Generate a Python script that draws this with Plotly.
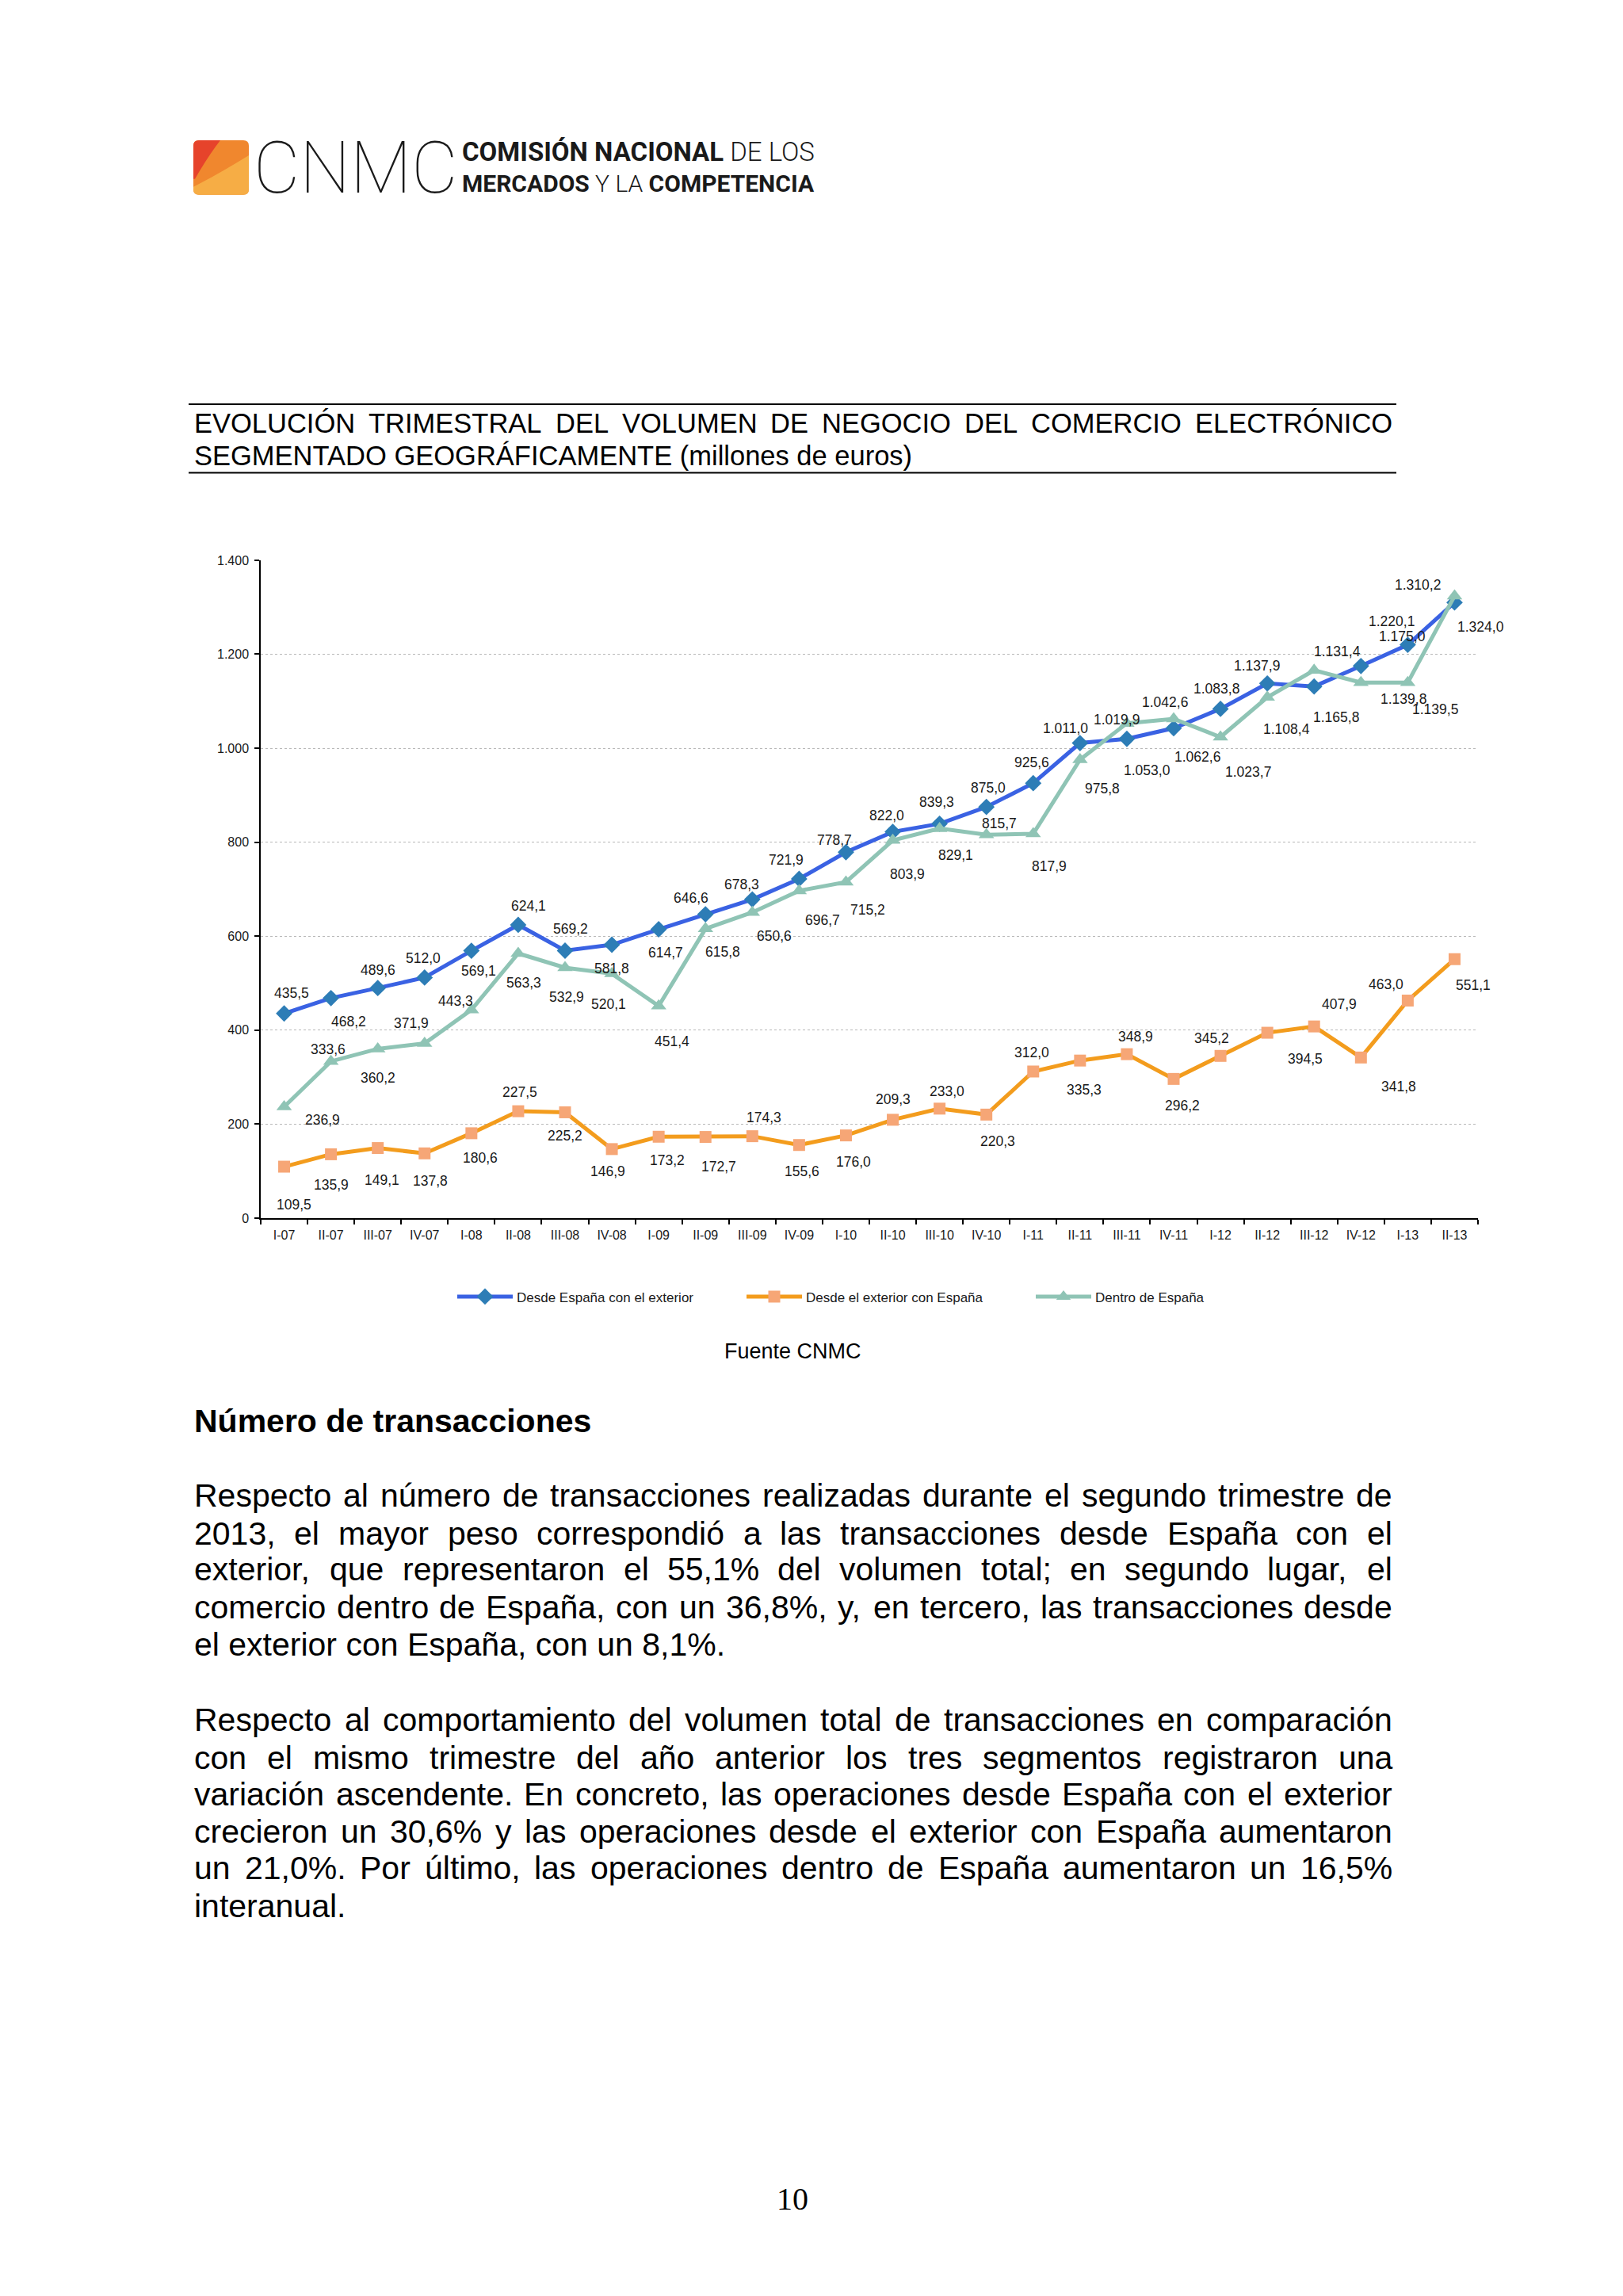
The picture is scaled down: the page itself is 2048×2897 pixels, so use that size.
import plotly.graph_objects as go

PAGE_W, PAGE_H = 2048, 2897
BODY_MARGIN = 8          # default <body> margin of the written html page
W, H = PAGE_W - 2 * BODY_MARGIN, PAGE_H - 2 * BODY_MARGIN

# ---------------- data ----------------
quarters = ["I-07", "II-07", "III-07", "IV-07", "I-08", "II-08", "III-08", "IV-08",
            "I-09", "II-09", "III-09", "IV-09", "I-10", "II-10", "III-10", "IV-10",
            "I-11", "II-11", "III-11", "IV-11", "I-12", "II-12", "III-12", "IV-12",
            "I-13", "II-13"]
desde_espana_exterior = [435.5, 468.2, 489.6, 512.0, 569.1, 624.1, 569.2, 581.8,
                         614.7, 646.6, 678.3, 721.9, 778.7, 822.0, 839.3, 875.0,
                         925.6, 1011.0, 1019.9, 1042.6, 1083.8, 1137.9, 1131.4, 1175.0,
                         1220.1, 1310.2]
desde_exterior_espana = [109.5, 135.9, 149.1, 137.8, 180.6, 227.5, 225.2, 146.9,
                         173.2, 172.7, 174.3, 155.6, 176.0, 209.3, 233.0, 220.3,
                         312.0, 335.3, 348.9, 296.2, 345.2, 394.5, 407.9, 341.8,
                         463.0, 551.1]
dentro_espana = [236.9, 333.6, 360.2, 371.9, 443.3, 563.3, 532.9, 520.1,
                 451.4, 615.8, 650.6, 696.7, 715.2, 803.9, 829.1, 815.7,
                 817.9, 975.8, 1053.0, 1062.6, 1023.7, 1108.4, 1165.8, 1139.8,
                 1139.5, 1324.0]
series_names = ["Desde España con el exterior", "Desde el exterior con España", "Dentro de España"]
y_ticks = [0, 200, 400, 600, 800, 1000, 1200, 1400]

title_lines = ["EVOLUCIÓN TRIMESTRAL DEL VOLUMEN DE NEGOCIO DEL COMERCIO ELECTRÓNICO",
               "SEGMENTADO GEOGRÁFICAMENTE (millones de euros)"]
source_text = "Fuente CNMC"
heading_text = "Número de transacciones"
paragraph1 = ["Respecto al número de transacciones realizadas durante el segundo trimestre de",
              "2013, el mayor peso correspondió a las transacciones desde España con el",
              "exterior, que representaron el 55,1% del volumen total; en segundo lugar, el",
              "comercio dentro de España, con un 36,8%, y, en tercero, las transacciones desde",
              "el exterior con España, con un 8,1%."]
paragraph2 = ["Respecto al comportamiento del volumen total de transacciones en comparación",
              "con el mismo trimestre del año anterior los tres segmentos registraron una",
              "variación ascendente. En concreto, las operaciones desde España con el exterior",
              "crecieron un 30,6% y las operaciones desde el exterior con España aumentaron",
              "un 21,0%. Por último, las operaciones dentro de España aumentaron un 16,5%",
              "interanual."]
page_number = "10"
logo_word = "CNMC"
logo_line1 = "<b>COMISIÓN NACIONAL</b> DE LOS"
logo_line2 = "<b>MERCADOS</b> Y LA <b>COMPETENCIA</b>"

# label placement (offset of label centre from point, in reduced-image px; +dy = down)
off_blue = [(5, -14), (12, 16), (0, -12), (-1, -13), (5, 14), (7, -13), (4, -15), (0, 16),
            (5, 16), (-10, -11), (-7, -10), (-9, -13), (-8, -8), (-4, -11), (-2, -15), (1, -13),
            (-1, -14), (-10, -10), (-7, -13), (-6, -18), (-3, -14), (-7, -12), (16, -24), (28, -20),
            (-11, -16), (-25, -12)]
off_teal = [(26, 9), (-2, -8), (0, 20), (-9, -14), (-11, -6), (4, 20), (1, 20), (-2, 21),
            (9, 24), (12, 16), (15, 16), (16, 20), (15, 19), (10, 23), (11, 18), (9, -8),
            (11, 22), (15, 20), (14, 32), (16, 26), (19, 24), (13, 22), (15, 32), (29, 11),
            (19, 18), (18, 21)]
off_orange = [(7, 26), (0, 21), (3, 22), (4, 19), (6, 17), (1, -13), (0, 16), (-3, 15),
              (6, 16), (9, 20), (8, -13), (2, 18), (5, 18), (0, -14), (5, -12), (8, 18),
              (-1, -13), (3, 20), (6, -12), (6, 18), (-6, -12), (26, 18), (17, -15), (26, 20),
              (-15, -11), (13, 18)]

# ---------------- helpers ----------------
def px(x):
    return (x - BODY_MARGIN) / W


def py(y):
    return 1 - (y - BODY_MARGIN) / H


ARIAL = {' ': 278, '!': 278, '%': 889, "'": 191, '(': 333, ')': 333, ',': 278, '-': 333,
         '.': 278, '/': 278, ':': 278, ';': 278, '?': 556,
         'A': 667, 'B': 667, 'C': 722, 'D': 722, 'E': 667, 'F': 611, 'G': 778, 'H': 722,
         'I': 278, 'J': 500, 'K': 667, 'L': 556, 'M': 833, 'N': 722, 'O': 778, 'P': 667,
         'Q': 778, 'R': 722, 'S': 667, 'T': 611, 'U': 722, 'V': 667, 'W': 944, 'X': 667,
         'Y': 667, 'Z': 611,
         'a': 556, 'b': 556, 'c': 500, 'd': 556, 'e': 556, 'f': 278, 'g': 556, 'h': 556,
         'i': 222, 'j': 222, 'k': 500, 'l': 222, 'm': 833, 'n': 556, 'o': 556, 'p': 556,
         'q': 556, 'r': 333, 's': 500, 't': 278, 'u': 556, 'v': 500, 'w': 722, 'x': 500,
         'y': 500, 'z': 500,
         'á': 556, 'é': 556, 'í': 278, 'ó': 556, 'ú': 556, 'ñ': 556,
         'Á': 667, 'É': 667, 'Í': 278, 'Ó': 778, 'Ú': 722, 'Ñ': 722}


def tw(s, size):
    return sum(ARIAL.get(c, 556) for c in s) / 1000.0 * size


SANS = "Liberation Sans, Arial, sans-serif"
annotations = []


def add_text_line(text, x_left, x_right, y_center, size, justify, bold=False, color="#000000"):
    font = dict(family=SANS, size=size, color=color)
    if bold:
        font["weight"] = "bold"
    if not justify:
        annotations.append(dict(x=px(x_left), y=py(y_center), xref="paper", yref="paper",
                                text=text, xanchor="left", yanchor="middle", showarrow=False,
                                borderpad=0, font=font))
        return
    words = text.split(" ")
    widths = [tw(w, size) for w in words]
    gap = (x_right - x_left - sum(widths)) / (len(words) - 1)
    x = x_left
    for w, wd in zip(words, widths):
        annotations.append(dict(x=px(x), y=py(y_center), xref="paper", yref="paper",
                                text=w, xanchor="left", yanchor="middle", showarrow=False,
                                borderpad=0, font=font))
        x += wd + gap


def fmt(v):
    s = f"{v:,.1f}"
    return s.replace(",", "X").replace(".", ",").replace("X", ".")


def path(cmds):
    out = []
    for c in cmds:
        if c[0] == "Z":
            out.append("Z")
        else:
            pts = c[1:]
            coords = " ".join(f"{px(pts[i]):.5f},{py(pts[i + 1]):.5f}" for i in range(0, len(pts), 2))
            out.append(f"{c[0]} {coords}")
    return " ".join(out)


# ---------------- figure ----------------
fig = go.Figure()

fig.add_trace(go.Scatter(x=quarters, y=desde_espana_exterior, name=series_names[0],
                         mode="lines+markers",
                         line=dict(color="#3a62e3", width=5),
                         marker=dict(symbol="diamond", size=16, color="#2d7db6")))
fig.add_trace(go.Scatter(x=quarters, y=desde_exterior_espana, name=series_names[1],
                         mode="lines+markers",
                         line=dict(color="#f39c1d", width=5),
                         marker=dict(symbol="square", size=15, color="#f6a676")))
fig.add_trace(go.Scatter(x=quarters, y=dentro_espana, name=series_names[2],
                         mode="lines+markers",
                         line=dict(color="#8fc4b5", width=5),
                         marker=dict(symbol="triangle-up", size=17, color="#8fc4b5")))

S = PAGE_W / 1108.0
for vals, offs in ((desde_espana_exterior, off_blue), (desde_exterior_espana, off_orange),
                   (dentro_espana, off_teal)):
    for q, v, (dx, dy) in zip(quarters, vals, offs):
        annotations.append(dict(x=q, y=v, xref="x", yref="y", text=fmt(v), showarrow=False,
                                xshift=dx * S, yshift=-dy * S,
                                font=dict(family=SANS, size=17.5, color="#1a1a1a")))

# title with rules
add_text_line(title_lines[0], 244, 1756, 529, 34.5, True)
add_text_line(title_lines[1], 244, 1756, 570, 34.5, False)

# source, heading, paragraphs, page number
annotations.append(dict(x=px(1000), y=py(1707), xref="paper", yref="paper", text=source_text,
                        showarrow=False, xanchor="center", yanchor="middle",
                        font=dict(family=SANS, size=27, color="#000000")))
add_text_line(heading_text, 244, 1756, 1796, 41, False, bold=True)
p1_y = [1890, 1938, 1984, 2032, 2079]
for i, (line, yy) in enumerate(zip(paragraph1, p1_y)):
    add_text_line(line, 244, 1756, yy, 41, i < len(paragraph1) - 1)
p2_y = [2175, 2223, 2269, 2317, 2363, 2411]
for i, (line, yy) in enumerate(zip(paragraph2, p2_y)):
    add_text_line(line, 244, 1756, yy, 41, i < len(paragraph2) - 1)
annotations.append(dict(x=px(1000), y=py(2783), xref="paper", yref="paper", text=page_number,
                        showarrow=False, xanchor="center", yanchor="middle",
                        font=dict(family="Liberation Serif, Times New Roman, serif", size=40,
                                  color="#000000")))

# logo texts
annotations.append(dict(x=px(319), y=py(206), xref="paper", yref="paper", text=logo_word,
                        showarrow=False, xanchor="left", yanchor="middle", borderpad=0,
                        font=dict(family="Roboto, Lato, sans-serif", size=90, weight=100,
                                  color="#1a1a1a")))
LOGO_FONT = "Roboto, Liberation Sans, sans-serif"
annotations.append(dict(x=px(582), y=py(185), xref="paper", yref="paper", text=logo_line1,
                        showarrow=False, xanchor="left", yanchor="middle", borderpad=0,
                        font=dict(family=LOGO_FONT, size=33, weight=300, color="#1a1a1a")))
annotations.append(dict(x=px(582), y=py(225), xref="paper", yref="paper", text=logo_line2,
                        showarrow=False, xanchor="left", yanchor="middle", borderpad=0,
                        font=dict(family=LOGO_FONT, size=30, weight=300, color="#1a1a1a")))

shapes = []
# rules around title
for yy in (505, 592):
    shapes.append(dict(type="line", xref="paper", yref="paper", x0=px(238), x1=px(1762),
                       y0=py(yy), y1=py(yy), line=dict(color="#000000", width=2)))
# logo square
L, T, R, B, r = 244, 170, 314, 239, 7
shapes.append(dict(type="path", xref="paper", yref="paper", line=dict(width=0),
                   fillcolor="#f0872e",
                   path=path([("M", L + r, T), ("L", R - r, T), ("Q", R, T, R, T + r),
                              ("L", R, B - r), ("Q", R, B, R - r, B), ("L", L + r, B),
                              ("Q", L, B, L, B - r), ("L", L, T + r), ("Q", L, T, L + r, T),
                              ("Z",)])))
shapes.append(dict(type="path", xref="paper", yref="paper", line=dict(width=0),
                   fillcolor="#e6432b",
                   path=path([("M", L + r, T), ("L", 278, T), ("Q", 262, T + 21, 246, T + 49),
                              ("L", L, T + 49), ("L", L, T + r), ("Q", L, T, L + r, T), ("Z",)])))
shapes.append(dict(type="path", xref="paper", yref="paper", line=dict(width=0),
                   fillcolor="#f6ad45",
                   path=path([("M", L, T + 59), ("Q", 272, T + 45, R, T + 19), ("L", R, B - r),
                              ("Q", R, B, R - r, B), ("L", L + r, B), ("Q", L, B, L, B - r),
                              ("Z",)])))

fig.update_layout(
    width=W, height=H,
    margin=dict(l=0, r=0, t=0, b=0),
    paper_bgcolor="#ffffff",
    plot_bgcolor="#ffffff",
    separators=",.",
    showlegend=True,
    legend=dict(orientation="h", x=px(572), xanchor="left", y=py(1638), yanchor="middle",
                font=dict(family=SANS, size=17, color="#1a1a1a"),
                itemwidth=70, entrywidth=280, entrywidthmode="pixels",
                bgcolor="rgba(0,0,0,0)"),
    xaxis=dict(domain=[px(329), px(1865)], type="category", range=[-0.5, 25.5],
               tickson="boundaries", ticks="outside", ticklen=6, tickcolor="#000000",
               tickwidth=1.5, showline=True, linecolor="#000000", linewidth=1.5,
               showgrid=False, zeroline=False, ticklabelstandoff=6,
               tickfont=dict(family=SANS, size=16, color="#1a1a1a")),
    yaxis=dict(domain=[py(1538), py(703)], range=[0, 1400], tickvals=y_ticks,
               tickformat=",d", ticks="outside", ticklen=6, tickcolor="#000000",
               tickwidth=1.5, showline=True, linecolor="#000000", linewidth=1.5,
               showgrid=True, gridcolor="#b8b8b8", griddash="dot", gridwidth=1,
               zeroline=False, ticklabelstandoff=4,
               tickfont=dict(family=SANS, size=16, color="#1a1a1a")),
    annotations=annotations,
    shapes=shapes,
)

fig.write_html("out.html")
